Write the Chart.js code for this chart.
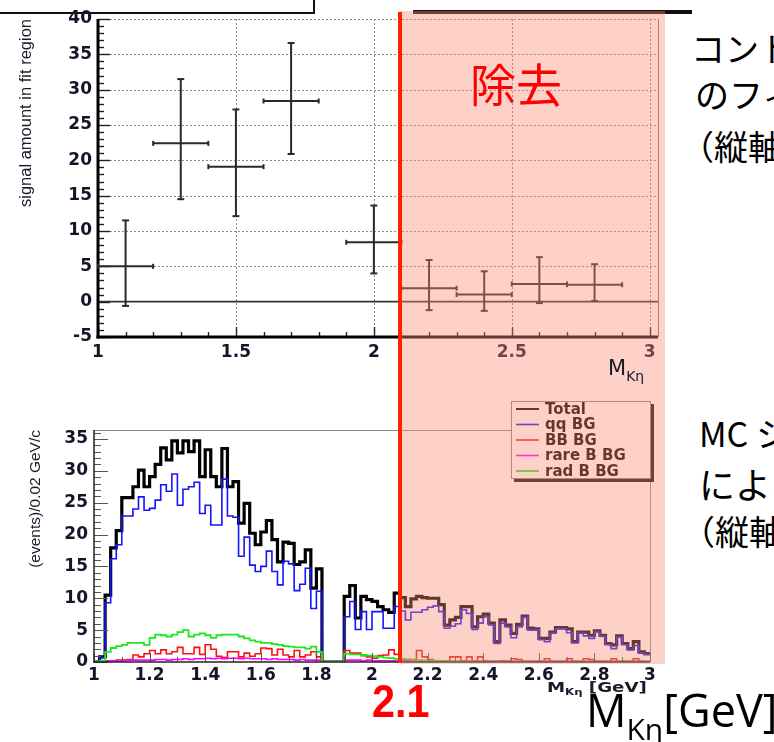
<!DOCTYPE html>
<html lang="ja"><head><meta charset="utf-8">
<script src="https://cdn.jsdelivr.net/npm/chart.js@4.4.1/dist/chart.umd.min.js"></script>
<style>
html,body{margin:0;padding:0;background:#fff;}
#stage{position:relative;width:774px;height:742px;overflow:hidden;background:#fff;}
canvas{position:absolute;left:0;}
.t{position:absolute;white-space:nowrap;}
.jp{font-family:"Noto Sans CJK JP","Noto Sans",sans-serif;color:#000;}
</style></head><body>
<div id="stage">
<div id="boxTL" style="position:absolute;left:-4px;top:-40px;width:315px;height:50px;border:2px solid #111;background:#fff"></div>
<div id="lineTR" style="position:absolute;left:413px;top:10px;width:279px;height:4px;background:#111"></div>
<canvas id="cTop" width="680" height="392" style="top:0"></canvas>
<canvas id="cBot" width="680" height="320" style="top:390px"></canvas>
<div id="pink" style="position:absolute;top:11px;height:653px;background:rgba(250,138,118,0.40)"></div>
<div id="cutLine" style="position:absolute;top:12px;height:651px;width:4px;background:#ff2200"></div>
<div class="t jp" style="left:470px;top:59px;font-size:46px;line-height:46px;color:#ff0000">除去</div>
<div class="t" style="left:372px;top:678px;font-family:'Liberation Sans',Arial,sans-serif;font-weight:bold;font-size:46px;line-height:46px;color:#ff0000;transform:scaleX(0.9);transform-origin:left top">2.1</div>
<div class="t" style="left:586px;top:687px;font-family:'Open Sans',sans-serif;font-size:45px;line-height:45px;color:#000">M<span style="font-size:30px;position:relative;top:13px">Kη</span>[GeV]</div>
<div class="t" style="left:608px;top:358px;font-family:'DejaVu Sans',sans-serif;font-size:21px;line-height:21px;color:#1a1a2a">M<span style="font-size:14px;position:relative;top:6px">Kη</span></div>
<div class="t" style="left:547px;top:680px;font-family:'DejaVu Sans',sans-serif;font-weight:bold;font-size:14px;line-height:14px;color:#1a1a2a;transform:scaleX(1.3);transform-origin:left top">M<span style="font-size:9px;position:relative;top:3px">Kη</span> [GeV]</div>
<div class="t jp" style="left:691px;top:31px;font-size:34px;line-height:34px">コントロール</div>
<div class="t jp" style="left:695px;top:77px;font-size:34px;line-height:34px">のフィット</div>
<div class="t jp" style="left:680px;top:129px;font-size:34px;line-height:34px">（縦軸）</div>
<div class="t jp" style="left:699px;top:416px;font-size:34px;line-height:34px">MC シミュレーション</div>
<div class="t jp" style="left:699px;top:465px;font-size:36px;line-height:36px">による</div>
<div class="t jp" style="left:681px;top:514px;font-size:34px;line-height:34px">（縦軸）</div>
</div>
<script>
// ---------- data: top panel (signal amount in fit region) ----------
const sigX     = [1.1, 1.3, 1.5, 1.7, 2.0, 2.2, 2.4, 2.6, 2.8];
const sigXHalf = [0.1, 0.1, 0.1, 0.1, 0.1, 0.1, 0.1, 0.1, 0.1];
const sigY     = [5.0, 22.4, 19.1, 28.4, 8.4, 1.9, 1.0, 2.5, 2.4];
const sigYHigh = [11.5, 31.5, 27.2, 36.6, 13.6, 5.9, 4.3, 6.3, 5.3];
const sigYLow  = [-0.6, 14.5, 12.1, 20.9, 4.0, -1.2, -1.3, -0.2, 0.1];
const topXTicks = [1, 1.5, 2, 2.5, 3];
const topYTicks = [-5, 0, 5, 10, 15, 20, 25, 30, 35, 40];

// ---------- data: bottom panel (MC histograms, 0.02 GeV bins from 1.0 to 3.0) ----------
const HIST_START = 1.0, HIST_END = 3.0, BIN_W = 0.02;
const CUT_X = 2.1;
const histTotal = [
 0, 0.8, 10.5, 17.9, 20.6, 25.8, 25.8, 27.5, 30.1, 27.5,
 29.1, 31.0, 33.6, 31.7, 34.7, 32.8, 34.7, 33.0, 34.7, 29.1,
 33.3, 29.1, 27.5, 33.5, 27.5, 28.3, 21.8, 24.9, 20.2, 18.4,
 20.4, 22.2, 19.2, 15.7, 18.8, 18.6, 15.3, 15.7, 17.6, 11.6,
 14.6, 0, 0, 0, 0, 10.3, 12.0, 6.9, 10.3, 9.8,
 9.5, 8.7, 8.2, 7.8, 10.8, 10.1, 8.7, 9.9, 10.3, 10.1,
 10.0, 10.0, 9.0, 5.8, 6.6, 7.0, 8.7, 8.7, 5.5, 7.1,
 7.5, 6.1, 3.2, 6.6, 5.8, 4.5, 5.9, 7.2, 5.3, 5.2,
 3.7, 3.7, 4.7, 5.4, 5.4, 5.2, 3.2, 4.7, 4.7, 4.2,
 4.9, 4.2, 2.9, 2.7, 4.1, 2.9, 2.1, 3.2, 1.6, 1.3];
const histQQ = [
 0, 0.7, 9.3, 16.2, 18.4, 22.9, 22.9, 24.0, 25.9, 23.8,
 24.1, 25.4, 27.8, 26.8, 29.5, 24.6, 27.1, 27.5, 28.2, 23.3,
 24.6, 21.5, 21.5, 28.7, 22.9, 22.7, 16.6, 19.6, 15.2, 14.2,
 15.0, 17.4, 14.2, 12.1, 15.8, 15.4, 11.2, 12.2, 14.7, 8.4,
 11.1, 0, 0, 0, 0, 7.1, 9.5, 5.1, 7.9, 5.1,
 7.9, 7.9, 5.3, 5.3, 8.7, 8.0, 6.6, 7.8, 7.8, 8.2,
 8.6, 8.8, 7.9, 5.3, 5.6, 6.0, 8.2, 7.6, 5.1, 6.1,
 7.1, 5.8, 2.9, 6.1, 5.5, 3.8, 5.5, 7.0, 5.0, 5.0,
 3.5, 3.2, 4.5, 5.2, 5.2, 4.6, 3.0, 4.5, 4.1, 3.7,
 4.7, 4.0, 2.7, 2.1, 3.9, 2.7, 1.9, 2.6, 1.4, 1.2];
const histBB = [
 0, 0, 0.2, 0.2, 0.3, 0.3, 0.4, 1.1, 0.8, 1.3,
 1.8, 1.3, 1.9, 1.3, 1.6, 2.3, 1.3, 1.3, 2.3, 1.2,
 2.7, 2.0, 0.9, 0.7, 1.6, 1.6, 0.8, 1.4, 0.9, 1.3,
 2.2, 2.1, 1.1, 2.0, 1.1, 0.8, 1.8, 0.8, 1.1, 1.6,
 0.8, 0, 0, 0, 0, 1.8, 1.4, 1.4, 1.0, 0.8,
 0.6, 1.0, 1.1, 1.9, 1.2, 0.4, 0.3, 0.4, 1.8, 0.8,
 0.4, 0.2, 0.2, 0.2, 0.8, 0.8, 0.2, 0.8, 0.2, 0.8,
 0.2, 0.1, 0.1, 0.2, 0.1, 0.5, 0.4, 0.1, 0.1, 0.1,
 0.1, 0.5, 0.1, 0.1, 0.1, 0.5, 0.1, 0.1, 0.5, 0.4,
 0.1, 0.1, 0.1, 0.5, 0.1, 0.1, 0.1, 0.5, 0.1, 0];
const histRare = [
 0, 0, 0.1, 0.2, 0.2, 0.2, 0.3, 0.3, 0.3, 0.3,
 0.3, 0.4, 0.4, 0.3, 0.4, 0.4, 0.5, 0.4, 0.5, 0.5,
 0.6, 0.5, 0.6, 0.5, 0.6, 0.6, 0.5, 0.6, 0.5, 0.5,
 0.5, 0.4, 0.5, 0.4, 0.4, 0.4, 0.3, 0.4, 0.3, 0.3,
 0.3, 0, 0, 0, 0, 0.3, 0.3, 0.3, 0.2, 0.3,
 0.2, 0.2, 0.2, 0.2, 0.2, 0.2, 0.1, 0.2, 0.1, 0.1,
 0.1, 0.1, 0.1, 0.1, 0.1, 0.1, 0.1, 0.1, 0.1, 0.1,
 0.1, 0.1, 0.1, 0.1, 0.1, 0.1, 0.1, 0.1, 0.1, 0.1,
 0.1, 0.1, 0.1, 0.1, 0.1, 0.1, 0.1, 0.1, 0.1, 0.1,
 0.1, 0.1, 0.1, 0.1, 0.1, 0.1, 0.1, 0.1, 0.1, 0.1];
const histRad = [
 0, 0.2, 1.6, 2.2, 2.5, 2.7, 3.0, 3.0, 3.0, 2.7,
 3.8, 4.3, 4.2, 4.0, 4.3, 4.7, 5.0, 4.0, 4.3, 4.5,
 4.2, 3.8, 4.2, 4.3, 4.3, 4.3, 4.0, 3.7, 3.4, 3.2,
 3.0, 3.0, 2.8, 2.7, 2.5, 2.4, 2.3, 2.3, 2.1, 2.4,
 1.6, 0, 0, 0, 0, 1.3, 1.2, 1.2, 1.1, 1.0,
 0.9, 0.8, 0.7, 0.6, 0.5, 0.45, 0.4, 0.3, 0.3, 0.25,
 0.2, 0.2, 0.15, 0.15, 0.1, 0.1, 0.1, 0.1, 0.1, 0.1,
 0.05, 0.05, 0.05, 0.05, 0.05, 0.05, 0.05, 0.05, 0.05, 0.05,
 0.05, 0.05, 0.05, 0.05, 0.05, 0.05, 0.05, 0.05, 0.05, 0.05,
 0.05, 0.05, 0.05, 0.05, 0.05, 0.05, 0.05, 0.05, 0.05, 0.05];
const botXTicks = [1, 1.2, 1.4, 1.6, 1.8, 2, 2.2, 2.4, 2.6, 2.8, 3];
const botYTicks = [0, 5, 10, 15, 20, 25, 30, 35];
const seriesNames = ['Total', 'qq BG', 'BB BG', 'rare B BG', 'rad B BG'];

// ---------- plugins ----------
function seg(ctx, x0, y0, x1, y1) { ctx.beginPath(); ctx.moveTo(x0, y0); ctx.lineTo(x1, y1); ctx.stroke(); }

const rootFrame = {
  id: 'rootFrame',
  beforeDatasetsDraw(chart, args, o) {
    const { ctx, chartArea: a } = chart; const xs = chart.scales.x, ys = chart.scales.y;
    ctx.save();
    if (o.grid) {
      ctx.strokeStyle = o.gridColor; ctx.lineWidth = 1; ctx.setLineDash([2, 2]);
      o.gridX.forEach(v => { const p = Math.round(xs.getPixelForValue(v)) + 0.5; seg(ctx, p, a.top, p, a.bottom); });
      o.gridY.forEach(v => { const p = Math.round(ys.getPixelForValue(v)) + 0.5; seg(ctx, a.left, p, a.right, p); });
      ctx.setLineDash([]);
    }
    if (o.frameColor) {
      ctx.strokeStyle = o.frameColor; ctx.lineWidth = 1;
      if (o.frameTop) seg(ctx, a.left, a.top + 0.5, a.right, a.top + 0.5);
      seg(ctx, a.right + 0.5, a.top, a.right + 0.5, a.bottom);
    }
    if (o.zeroLine) {
      ctx.strokeStyle = o.zeroLine.color; ctx.lineWidth = o.zeroLine.width;
      const p = ys.getPixelForValue(0); seg(ctx, a.left, p, a.right, p);
    }
    ctx.restore();
  },
  afterDatasetsDraw(chart, args, o) {
    const { ctx, chartArea: a } = chart; const xs = chart.scales.x, ys = chart.scales.y;
    ctx.save();
    ctx.strokeStyle = o.tickColor; ctx.lineWidth = o.tickWidth;
    const eps = 1e-6;
    for (let k = 0; ; k++) {
      const v = ys.min + k * o.yMinor; if (v > ys.max + eps) break;
      const major = Math.abs(v / o.yMajor - Math.round(v / o.yMajor)) < eps;
      const p = Math.round(ys.getPixelForValue(v)) + 0.5;
      seg(ctx, a.left, p, a.left + (major ? o.yMajorLen : o.yMinorLen), p);
    }
    for (let k = 0; ; k++) {
      const v = xs.min + k * o.xMinor; if (v > xs.max + eps) break;
      const major = Math.abs(v / o.xMajor - Math.round(v / o.xMajor)) < eps;
      const p = Math.round(xs.getPixelForValue(v)) + 0.5;
      seg(ctx, p, a.bottom, p, a.bottom - (major ? o.xMajorLen : o.xMinorLen));
    }
    ctx.strokeStyle = o.axisColor; ctx.lineWidth = o.axisWidth;
    seg(ctx, a.left, a.top, a.left, a.bottom + o.axisWidth / 2);
    seg(ctx, a.left - o.axisWidth / 2, a.bottom, a.right, a.bottom);
    ctx.restore();
  }
};

const errorBars = {
  id: 'errorBars',
  afterDatasetsDraw(chart, args, o) {
    const { ctx } = chart; const xs = chart.scales.x, ys = chart.scales.y;
    ctx.save(); ctx.strokeStyle = o.color; ctx.lineWidth = o.width;
    chart.data.datasets[0].data.forEach(p => {
      const xc = xs.getPixelForValue(p.x), x0 = xs.getPixelForValue(p.xMin), x1 = xs.getPixelForValue(p.xMax);
      const yc = ys.getPixelForValue(p.y), yh = ys.getPixelForValue(p.yMax), yl = ys.getPixelForValue(p.yMin);
      seg(ctx, x0, yc, x1, yc);
      seg(ctx, xc, yh, xc, yl);
      seg(ctx, x0, yc - o.cap / 2, x0, yc + o.cap / 2);
      seg(ctx, x1, yc - o.cap / 2, x1, yc + o.cap / 2);
      seg(ctx, xc - o.vcap / 2, yh, xc + o.vcap / 2, yh);
      seg(ctx, xc - o.vcap / 2, yl, xc + o.vcap / 2, yl);
    });
    ctx.restore();
  }
};

const boxLegend = {
  id: 'boxLegend',
  afterDraw(chart, args, o) {
    const { ctx } = chart;
    ctx.save();
    ctx.fillStyle = '#111'; ctx.fillRect(o.left + 3, o.top + 3, o.width, o.height);
    ctx.fillStyle = '#fff'; ctx.fillRect(o.left, o.top, o.width, o.height);
    ctx.strokeStyle = '#888'; ctx.lineWidth = 1; ctx.strokeRect(o.left + 0.5, o.top + 0.5, o.width - 1, o.height - 1);
    ctx.font = o.font; ctx.textBaseline = 'middle'; ctx.fillStyle = '#000';
    chart.data.datasets.forEach((d, i) => {
      const y = o.top + o.firstRow + i * o.rowH;
      ctx.strokeStyle = d.borderColor; ctx.lineWidth = Math.min(d.borderWidth, 2);
      seg(ctx, o.left + 5, y, o.left + 28, y);
      ctx.fillStyle = '#000'; ctx.fillText(d.label, o.left + 34, y + 1);
    });
    ctx.restore();
  }
};

// ---------- top chart ----------
const sigPoints = sigX.map((x, i) => ({ x, y: sigY[i], xMin: x - sigXHalf[i], xMax: x + sigXHalf[i], yMin: sigYLow[i], yMax: sigYHigh[i] }));
const tickFontTop = { family: 'DejaVu Sans', weight: 'bold', size: 17 };
new Chart(document.getElementById('cTop'), {
  type: 'scatter',
  data: { datasets: [{ label: 'signal amount', data: sigPoints, pointRadius: 0, showLine: false }] },
  options: {
    responsive: false, animation: false, devicePixelRatio: 1,
    layout: { padding: { top: 19, right: 22, left: 0, bottom: 0 } },
    plugins: {
      legend: { display: false }, tooltip: { enabled: false },
      rootFrame: { grid: true, gridX: [1.5, 2, 2.5, 3], gridY: [5, 10, 15, 20, 25, 30, 35, 40], gridColor: '#8a8a8a',
        frameColor: '#777', frameTop: false, zeroLine: { color: '#333', width: 1.6 },
        tickColor: '#222', tickWidth: 1.4, yMajor: 5, yMinor: 1, yMajorLen: 12, yMinorLen: 6,
        xMajor: 0.5, xMinor: 0.1, xMajorLen: 10, xMinorLen: 5, axisColor: '#000', axisWidth: 3 },
      errorBars: { color: '#2a2a2a', width: 2, cap: 5, vcap: 7 }
    },
    scales: {
      x: { type: 'linear', min: 1, max: 3.03,
        afterBuildTicks: s => { s.ticks = topXTicks.map(v => ({ value: v })); },
        afterFit: s => { s.height = 392 - 337; },
        grid: { display: false, drawTicks: false }, border: { display: false },
        ticks: { padding: 5, font: tickFontTop, color: '#15152a', maxRotation: 0, autoSkip: false, callback: v => String(v) } },
      y: { type: 'linear', min: -5, max: 40,
        afterBuildTicks: s => { s.ticks = topYTicks.map(v => ({ value: v })); },
        afterFit: s => { s.width = 98; },
        grid: { display: false, drawTicks: false }, border: { display: false },
        ticks: { padding: 6, font: tickFontTop, color: '#15152a', autoSkip: false, callback: v => String(v) },
        title: { display: true, text: 'signal amount in fit region', align: 'end', color: '#1a1a2a',
          font: { family: 'Liberation Sans', size: 16.5 }, padding: { top: 17, bottom: 0 } } }
    }
  },
  plugins: [rootFrame, errorBars]
});

// ---------- bottom chart ----------
function histPoints(vals) {
  const pts = vals.map((v, i) => ({ x: HIST_START + i * BIN_W, y: v }));
  pts.push({ x: HIST_END, y: vals[vals.length - 1] });
  return pts;
}
const histDefs = [
  { data: histTotal, color: '#000000', w: 3.2, order: 5 },
  { data: histQQ,    color: '#1414ff', w: 1.6, order: 4 },
  { data: histBB,    color: '#ff1010', w: 1.6, order: 3 },
  { data: histRare,  color: '#ff00ff', w: 1.6, order: 2 },
  { data: histRad,   color: '#1ee61e', w: 1.8, order: 1 }
];
const tickFontBot = { family: 'DejaVu Sans', weight: 'bold', size: 17 };
const botChart = new Chart(document.getElementById('cBot'), {
  type: 'line',
  data: { datasets: histDefs.map((d, i) => ({
    label: seriesNames[i], data: histPoints(d.data), borderColor: d.color, backgroundColor: d.color,
    borderWidth: d.w, stepped: 'before', pointRadius: 0, tension: 0, fill: false, order: d.order,
    borderJoinStyle: 'miter' })) },
  options: {
    responsive: false, animation: false, devicePixelRatio: 1,
    layout: { padding: { top: 40, right: 30, left: 0, bottom: 0 } },
    plugins: {
      legend: { display: false }, tooltip: { enabled: false },
      rootFrame: { grid: false, frameColor: '#8a8a8a', frameTop: true, zeroLine: null,
        tickColor: '#555', tickWidth: 1, yMajor: 5, yMinor: 1, yMajorLen: 14, yMinorLen: 7,
        xMajor: 0.2, xMinor: 0.1, xMajorLen: 9, xMinorLen: 5, axisColor: '#222', axisWidth: 1.5 },
      boxLegend: { left: 511, top: 11, width: 140, height: 78, firstRow: 8, rowH: 15.5,
        font: 'bold 15px "DejaVu Sans"' }
    },
    scales: {
      x: { type: 'linear', min: HIST_START, max: HIST_END,
        afterBuildTicks: s => { s.ticks = botXTicks.map(v => ({ value: v })); },
        afterFit: s => { s.height = 320 - 272; },
        grid: { display: false, drawTicks: false }, border: { display: false },
        ticks: { padding: 3, font: tickFontBot, color: '#15152a', maxRotation: 0, autoSkip: false, callback: v => String(v) } },
      y: { type: 'linear', min: 0, max: 36.4,
        afterBuildTicks: s => { s.ticks = botYTicks.map(v => ({ value: v })); },
        afterFit: s => { s.width = 94; },
        grid: { display: false, drawTicks: false }, border: { display: false },
        ticks: { padding: 6, font: tickFontBot, color: '#15152a', autoSkip: false, callback: v => String(v) },
        title: { display: true, text: '(events)/0.02 GeV/c', align: 'end', color: '#1a1a2a',
          font: { family: 'Liberation Sans', size: 15.5 }, padding: { top: 26, bottom: 0 } } }
    }
  },
  plugins: [rootFrame, boxLegend]
});

// ---------- cut region overlay positioned from the bottom chart's x scale ----------
const cutPx = botChart.scales.x.getPixelForValue(CUT_X);
const pink = document.getElementById('pink');
pink.style.left = cutPx + 'px';
pink.style.width = (665 - cutPx) + 'px';
const cut = document.getElementById('cutLine');
cut.style.left = (cutPx - 2) + 'px';
</script>
</body></html>
